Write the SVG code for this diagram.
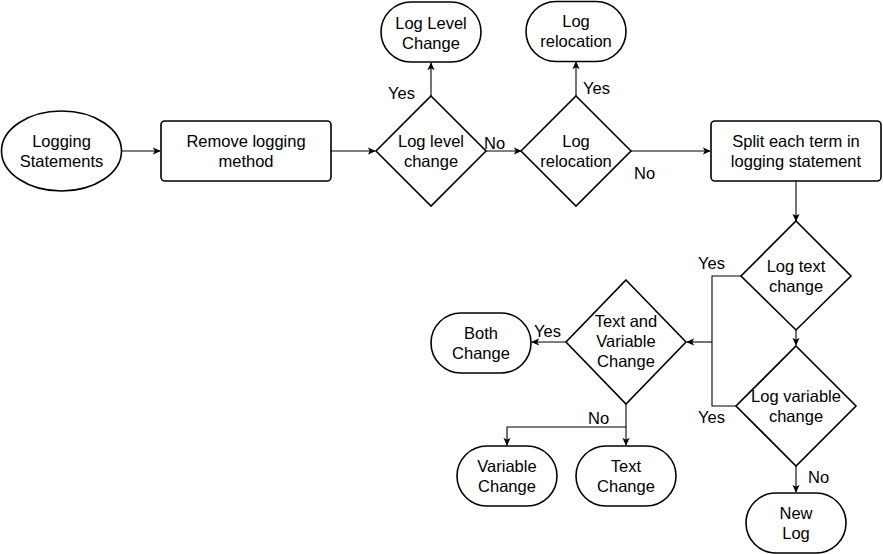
<svg xmlns="http://www.w3.org/2000/svg" width="883" height="554" viewBox="0 0 883 554">
<defs>
<marker id="arr" viewBox="0 0 10 10" refX="9" refY="5" markerWidth="8" markerHeight="8" markerUnits="userSpaceOnUse" orient="auto">
<path d="M0,0.5 L10,5 L0,9.5 L2.5,5 z" fill="#000"/>
</marker>
</defs>
<style>
.s{fill:#fff;stroke:#000;stroke-width:1.6}
.c{fill:none;stroke:#000;stroke-width:1.1}
.a{marker-end:url(#arr)}
text{font-family:"Liberation Sans",Arial,Helvetica,sans-serif;font-size:16.5px;fill:#000}
.m{text-anchor:middle}
</style>
<rect width="883" height="554" fill="#fff"/>
<g id="connectors">
<path class="c a" d="M122,151 H160"/>
<path class="c a" d="M331,151 H375"/>
<path class="c a" d="M431,96 V63"/>
<path class="c a" d="M486,151 H521"/>
<path class="c a" d="M576,96 V62"/>
<path class="c a" d="M631,151 H710"/>
<path class="c a" d="M796,181 V221"/>
<path class="c a" d="M796,330 V345"/>
<path class="c" d="M741,276 H712 V406 H736"/>
<path class="c a" d="M712,342 H687"/>
<path class="c a" d="M566,342 H532"/>
<path class="c a" d="M626,404 V445"/>
<path class="c a" d="M626,427 H507 V445"/>
<path class="c a" d="M796,466 V492"/>
<text x="388" y="99">Yes</text>
<text x="583" y="94">Yes</text>
<text x="484" y="149">No</text>
<text x="634" y="179">No</text>
<text x="698" y="269">Yes</text>
<text x="698" y="423">Yes</text>
<text x="534" y="337">Yes</text>
<text x="588" y="424">No</text>
<text x="808" y="483">No</text>
</g>
<g id="logging-statements">
<ellipse class="s" cx="61.5" cy="151" rx="60" ry="40"/>
<text class="m" x="61.5" y="147">Logging</text>
<text class="m" x="61.5" y="167">Statements</text>
</g>
<g id="remove-logging-method">
<rect class="s" x="161" y="121" width="170" height="60" rx="4"/>
<text class="m" x="246" y="147">Remove logging</text>
<text class="m" x="246" y="167">method</text>
</g>
<g id="log-level-change-decision">
<path class="s" d="M431,96 L486,151 L431,206 L376,151 Z"/>
<text class="m" x="431" y="147">Log level</text>
<text class="m" x="431" y="167">change</text>
</g>
<g id="log-level-change">
<rect class="s" x="381" y="2" width="100" height="60" rx="30" ry="30"/>
<text class="m" x="431" y="28.5">Log Level</text>
<text class="m" x="431" y="48.5">Change</text>
</g>
<g id="log-relocation-decision">
<path class="s" d="M576,96 L631,151 L576,206 L521,151 Z"/>
<text class="m" x="576" y="147">Log</text>
<text class="m" x="576" y="167">relocation</text>
</g>
<g id="log-relocation">
<rect class="s" x="526" y="1.5" width="100" height="60" rx="30" ry="30"/>
<text class="m" x="576" y="27">Log</text>
<text class="m" x="576" y="47">relocation</text>
</g>
<g id="split-each-term">
<rect class="s" x="711" y="121" width="170" height="60" rx="4"/>
<text class="m" x="796" y="147">Split each term in</text>
<text class="m" x="796" y="167">logging statement</text>
</g>
<g id="log-text-change">
<path class="s" d="M796,221 L851,276 L796,330 L741,276 Z"/>
<text class="m" x="796" y="272">Log text</text>
<text class="m" x="796" y="292">change</text>
</g>
<g id="log-variable-change">
<path class="s" d="M796,346 L856,406 L796,466 L736,406 Z"/>
<text class="m" x="796" y="402">Log variable</text>
<text class="m" x="796" y="422">change</text>
</g>
<g id="new-log">
<rect class="s" x="746" y="493" width="100" height="60" rx="30" ry="30"/>
<text class="m" x="796" y="519">New</text>
<text class="m" x="796" y="539">Log</text>
</g>
<g id="text-and-variable-change">
<path class="s" d="M626,280 L686,342 L626,404 L566,342 Z"/>
<text class="m" x="626" y="327">Text and</text>
<text class="m" x="626" y="347">Variable</text>
<text class="m" x="626" y="367">Change</text>
</g>
<g id="both-change">
<rect class="s" x="431" y="313" width="100" height="60" rx="30" ry="30"/>
<text class="m" x="481" y="338.5">Both</text>
<text class="m" x="481" y="358.5">Change</text>
</g>
<g id="variable-change">
<rect class="s" x="457" y="446" width="100" height="60" rx="30" ry="30"/>
<text class="m" x="507" y="472">Variable</text>
<text class="m" x="507" y="492">Change</text>
</g>
<g id="text-change">
<rect class="s" x="576" y="446" width="100" height="60" rx="30" ry="30"/>
<text class="m" x="626" y="472">Text</text>
<text class="m" x="626" y="492">Change</text>
</g>
</svg>
